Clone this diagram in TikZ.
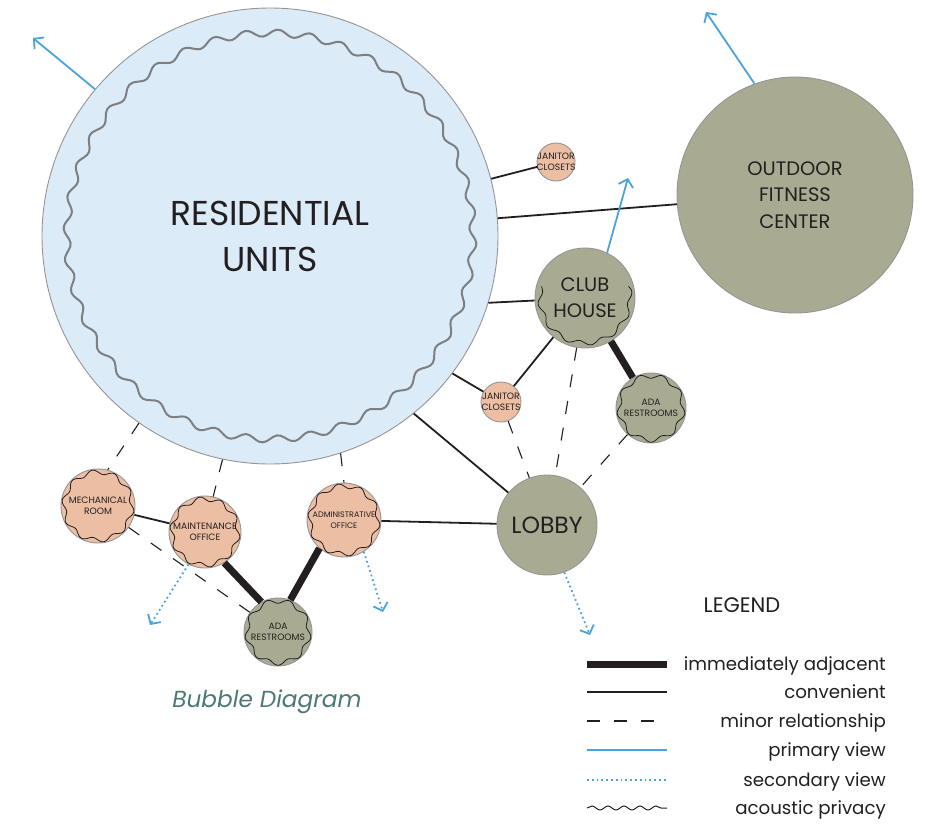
\documentclass[tikz,border=0pt]{standalone}
\usepackage{fontspec}
\setmainfont{Poppins}
\usetikzlibrary{decorations.pathmorphing,arrows.meta}
\definecolor{resblue}{HTML}{DBEBF7}
\definecolor{spaceolive}{HTML}{A8AB92}
\definecolor{roompeach}{HTML}{ECBEA4}
\definecolor{viewblue}{HTML}{4AA3DC}
\definecolor{ink}{HTML}{231F20}
\definecolor{captionteal}{HTML}{4C7876}
\definecolor{rim}{HTML}{959595}
\definecolor{wavegray}{HTML}{7D7F82}
% wavy ring round a node: [style]{node}{radius}{waves}{amplitude}
\newcommand{\wavering}[5][roomwave]{%
    \draw[#1, shift={(#2.center)}] plot[smooth cycle, domain=0:359, samples=360, variable=\t] (\t:{#3+#5*sin(#4*\t)});}

\begin{document}
\begin{tikzpicture}[x=1pt, y=-1pt,
    bubble/.style={circle, draw=rim, line width=0.9pt, inner sep=-12pt, align=center, text=ink},
    space/.style={bubble, fill=spaceolive},
    room/.style={bubble, fill=roompeach},
    tinytext/.style={font=\fontsize{9.2}{10.5}\selectfont},
    roomwave/.style={draw=ink, line width=0.8pt},
    reswave/.style={draw=wavegray, line width=2pt},
    adjacent/.style={draw=ink, line width=7pt},
    convenient/.style={draw=ink, line width=1.8pt},
    minor/.style={draw=ink, line width=1.1pt, dash pattern=on 13pt off 14pt},
    primary/.style={draw=viewblue, line width=1.8pt},
    secondary/.style={draw=viewblue, line width=1.8pt, dash pattern=on 1.8pt off 3pt},
    privacy/.style={draw=ink, line width=1pt, decorate, decoration={snake, amplitude=2pt, segment length=16pt}},
    viewtip/.style={-{Straight Barb[length=7pt, width=15pt]}},
  ]
\useasboundingbox (0,0) rectangle (926,823);

% big spaces
\node[bubble, fill=resblue, minimum size=456pt, font=\fontsize{34.5}{46}\selectfont] (res) at (270,236) {RESIDENTIAL\\UNITS};
\wavering[reswave]{res}{203}{40}{3.5}
\node[space, minimum size=236pt, font=\fontsize{19.5}{26.5}\selectfont] (fit) at (795,195) {OUTDOOR\\FITNESS\\CENTER};
\node[space, minimum size=100pt, font=\fontsize{19.5}{26}\selectfont] (club) at (585,298) {CLUB\\HOUSE};
\node[space, minimum size=100pt, font=\fontsize{23.5}{26}\selectfont] (lobby) at (547,525) {LOBBY};

% small rooms
\node[space, minimum size=70pt, tinytext] (adaone) at (651,408) {ADA\\RESTROOMS};
\node[space, minimum size=68pt, tinytext] (adatwo) at (278,632) {ADA\\RESTROOMS};
\node[room, minimum size=38pt, tinytext] (janone) at (556,162) {JANITOR\\CLOSETS};
\node[room, minimum size=40pt, tinytext] (jantwo) at (501,402) {JANITOR\\CLOSETS};
\node[room, minimum size=74pt, tinytext] (mech) at (98,506) {MECHANICAL\\ROOM};
\node[room, minimum size=72pt, tinytext] (maint) at (205,532) {MAINTENANCE\\OFFICE};
\node[room, minimum size=74pt, font=\fontsize{8}{10.5}\selectfont] (admin) at (344,520) {ADMINISTRATIVE\\OFFICE};

% acoustic privacy
\wavering{mech}{34}{10}{2.2}
\wavering{maint}{33}{10}{2.2}
\wavering{admin}{34}{10}{2.2}
\wavering{adatwo}{31}{9}{2.2}
\wavering{adaone}{32}{9}{2.2}
\draw[roomwave, shift={(club.center)}] plot[smooth, domain=-15:195, samples=150, variable=\t] (\t:{45+2.2*sin(12*(\t+15))});

% relationships
\draw[convenient] (res) -- (janone);
\draw[convenient] (res) -- (fit);
\draw[convenient] (res.-17) -- (club);
\draw[convenient] (res.-37) -- (jantwo);
\draw[convenient] (res.-51) -- (lobby);
\draw[convenient] (club) -- (jantwo);
\draw[adjacent] (club) -- (adaone);
\draw[minor] (club) -- (lobby);
\draw[minor] (jantwo) -- (lobby);
\draw[minor] (adaone) -- (lobby);
\draw[minor] (res.235) -- (mech.75);
\draw[minor] (res.258) -- (maint.77);
\draw[minor] (res.-72) -- (admin.north);
\draw[convenient] (mech) -- (maint);
\draw[minor] (mech) -- (adatwo);
\draw[adjacent] (maint.-58) -- (adatwo.119);
\draw[adjacent] (admin.229) -- (adatwo.69);
\draw[convenient] (admin) -- (lobby);

% views
\coordinate (resview) at (33,38);
\coordinate (fitview) at (706,12);
\coordinate (clubview) at (628,178);
\coordinate (maintview) at (150,625);
\coordinate (adminview) at (383,612);
\coordinate (lobbyview) at (590,635);
\draw[primary, viewtip] (res.140) -- (resview);
\draw[primary, viewtip] (fit.110) -- (fitview);
\draw[primary, viewtip] (club.64) -- (clubview);
\draw[secondary, viewtip] (maint.243) -- (maintview);
\draw[secondary, viewtip] (admin.-58) -- (adminview);
\draw[secondary, viewtip] (lobby.-70) -- (lobbyview);

\node[font=\fontsize{23.2}{26}\selectfont\itshape, text=captionteal] (caption) at (267,702) {Bubble Diagram};

% legend
\node[font=\fontsize{21}{24}\selectfont, text=ink] (legtitle) at (742,605) {LEGEND};
\foreach \y/\sty/\txt [count=\i] in {664/adjacent/immediately adjacent, 692/convenient/convenient, 721/minor/minor relationship, 750/primary/primary view, 780/secondary/secondary view, 808/privacy/acoustic privacy} {
    \coordinate (ls\i) at (587,\y);
    \coordinate (le\i) at (667,\y);
    \draw[\sty] (ls\i) -- (le\i);
    \node[anchor=base east, inner sep=0pt, font=\fontsize{18.2}{20}\selectfont, text=ink] (lt\i) at (886,\y+6) {\txt};
}

\end{tikzpicture}
\end{document}
